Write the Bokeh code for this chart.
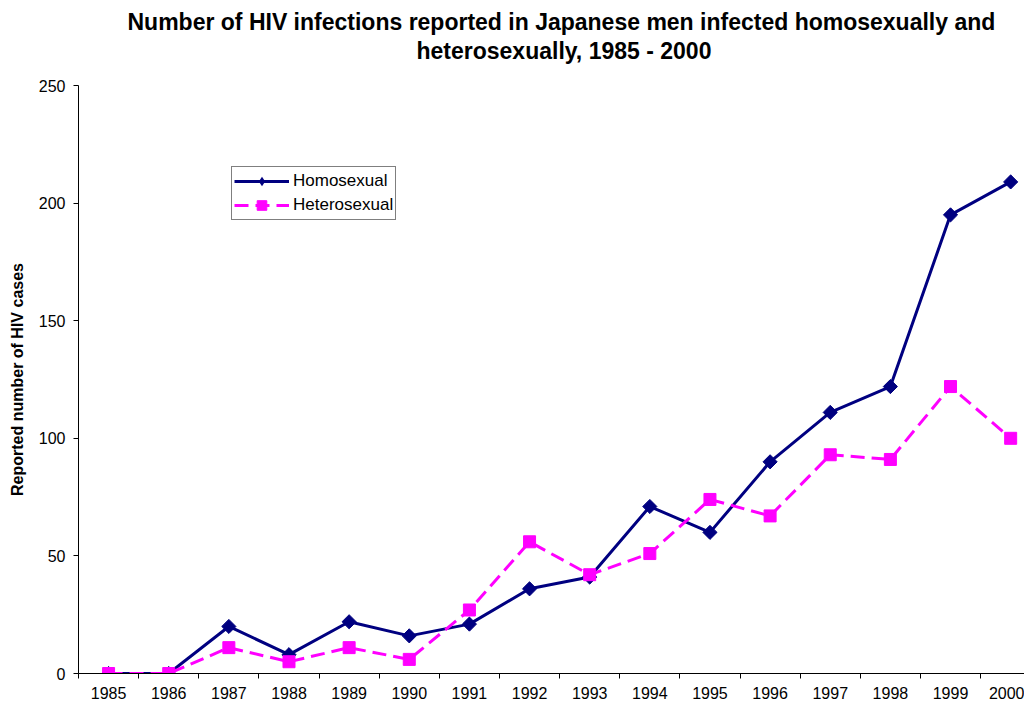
from bokeh.plotting import figure
from bokeh.models import FixedTicker, Title, Legend, LegendItem, Range1d
from bokeh.embed import file_html
from bokeh.resources import INLINE

years = [1985, 1986, 1987, 1988, 1989, 1990, 1991, 1992, 1993, 1994, 1995, 1996, 1997, 1998, 1999, 2000]
homosexual = [0, 0, 20, 8, 22, 16, 21, 36, 41, 71, 60, 90, 111, 122, 195, 209]
heterosexual = [0, 0, 11, 5, 11, 6, 27, 56, 42, 51, 74, 67, 93, 91, 122, 100]
y_ticks = [0, 50, 100, 150, 200, 250]

FONT = "Liberation Sans"

p = figure(width=1024, height=701, output_backend="svg", toolbar_location=None,
           x_range=Range1d(1984.5, 2000.23), y_range=Range1d(0, 250),
           min_border_left=78, min_border_right=0, min_border_top=0, min_border_bottom=10)
p.title = None
spacer = Title(text=" ", text_font=FONT, text_font_size="2px", standoff=23)
t2 = Title(text="heterosexually, 1985 - 2000", align="left", text_font=FONT,
           text_font_size="23px", text_font_style="bold", text_color="black",
           offset=338, standoff=-11.5)
t1 = Title(text="Number of HIV infections reported in Japanese men infected homosexually and",
           align="left", text_font=FONT, text_font_size="23px", text_font_style="bold",
           text_color="black", offset=49, standoff=12.5)
p.add_layout(spacer, "above")
p.add_layout(t2, "above")
p.add_layout(t1, "above")

p.xgrid.visible = False
p.ygrid.visible = False
p.outline_line_color = None
p.background_fill_color = "white"
p.border_fill_color = "white"

xa = p.xaxis[0]
xa.ticker = FixedTicker(ticks=years, minor_ticks=[y + 0.5 for y in years[:-1]] + [1984.5])
xa.major_label_overrides = {y: str(y) for y in years}
xa.major_tick_out = 0
xa.major_tick_in = 0
xa.minor_tick_out = 5
xa.minor_tick_in = 0
xa.minor_tick_line_color = "black"
xa.axis_line_color = "black"
xa.major_label_text_font = FONT
xa.major_label_text_font_size = "16px"
xa.major_label_text_color = "black"
xa.major_label_standoff = 8

ya = p.yaxis[0]
ya.ticker = FixedTicker(ticks=y_ticks)
ya.minor_tick_line_color = None
ya.major_tick_out = 5
ya.major_tick_in = 0
ya.axis_line_color = "black"
ya.major_label_text_font = FONT
ya.major_label_text_font_size = "16px"
ya.major_label_text_color = "black"
ya.major_label_standoff = 8
ya.axis_label = "Reported number of HIV cases"
ya.axis_label_text_font = FONT
ya.axis_label_text_font_size = "16px"
ya.axis_label_text_font_style = "bold"
ya.axis_label_text_color = "black"
ya.axis_label_standoff = 10

navy = "#000080"
mag = "#FF00FF"

l1 = p.line(years, homosexual, line_color=navy, line_width=3)
m1 = p.scatter(years, homosexual, marker="square", angle=0.785398, size=10,
               fill_color=navy, line_color=navy)
l2 = p.line(years, heterosexual, line_color=mag, line_width=3, line_dash="14 7")
m2 = p.scatter(years, heterosexual, marker="square", size=12, fill_color=mag, line_color=mag)
# zero-size diamonds: only give the legend its diamond swatch
m1_leg = p.scatter(years, homosexual, marker="diamond", size=0, fill_color=navy, line_color=None)

legend = Legend(items=[LegendItem(label="Homosexual", renderers=[l1, m1_leg]),
                       LegendItem(label="Heterosexual", renderers=[l2, m2])],
                location=(153, 453), label_text_font=FONT, label_text_font_size="17px",
                label_text_color="black", glyph_width=55, glyph_height=24,
                label_height=20, spacing=0, padding=2, margin=0, label_standoff=4,
                border_line_color="black", border_line_width=1,
                background_fill_alpha=1.0)
p.add_layout(legend, "center")

open("out.html", "w").write(file_html(p, INLINE))
